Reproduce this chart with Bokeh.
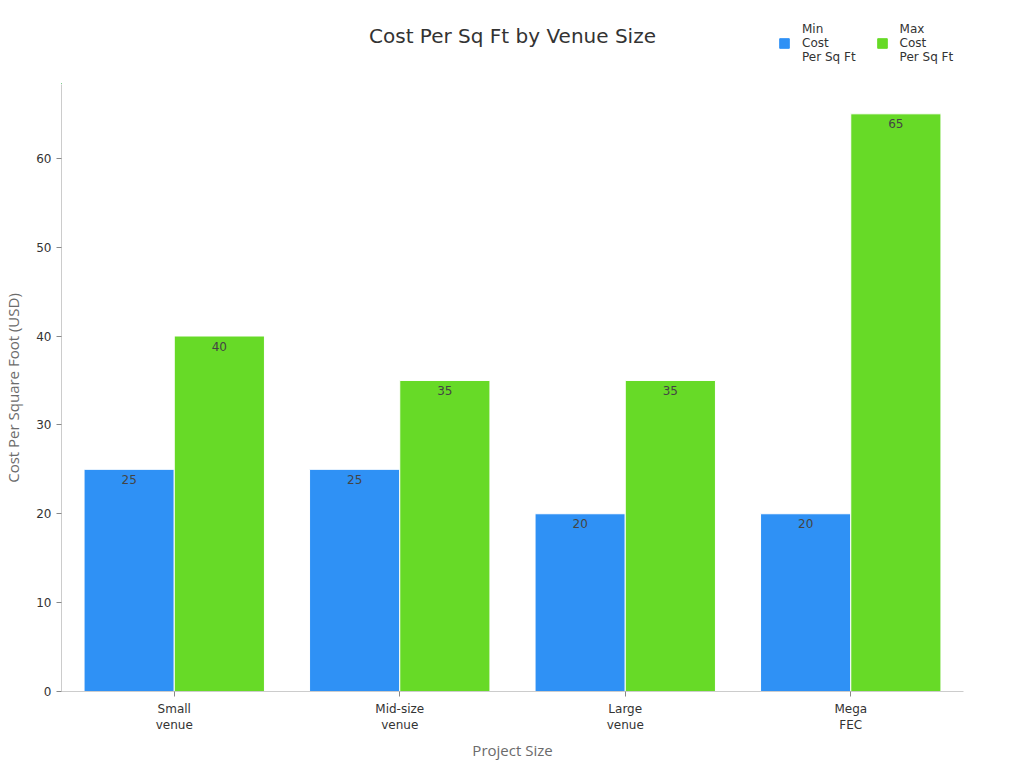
from bokeh.plotting import figure
from bokeh.layouts import column
from bokeh.core.properties import value
from bokeh.models import (ColumnDataSource, FactorRange, Range1d, Legend, LegendItem,
                          Label, LabelSet)
from bokeh.transform import dodge
from bokeh.embed import file_html
from bokeh.resources import INLINE

FONT = "DejaVu Sans"
AXIS_FONT = "Open Sans"

title_text = "Cost Per Sq Ft by Venue Size"
categories = ["Small\nvenue", "Mid-size\nvenue", "Large\nvenue", "Mega\nFEC"]
min_cost = [25, 25, 20, 20]
max_cost = [40, 35, 35, 65]
series_names = ["Min\nCost\nPer Sq Ft", "Max\nCost\nPer Sq Ft"]
colors = ["#2f91f5", "#67da27"]

src = ColumnDataSource(dict(
    cat=categories,
    min_cost=min_cost,
    max_cost=max_cost,
    min_txt=[str(v) for v in min_cost],
    max_txt=[str(v) for v in max_cost],
))

# ---- header strip: title and legend (its frame lines up with the chart frame) ----
HEAD_H = 84
head = figure(
    width=1024, height=HEAD_H,
    x_range=Range1d(0, 1024), y_range=Range1d(0, HEAD_H),
    x_axis_location=None, y_axis_location=None,
    output_backend="svg", toolbar_location=None,
    min_border=0,
)
head.title = None
head.grid.visible = False
head.outline_line_color = None
head.background_fill_color = "white"
head.border_fill_color = "white"

head.add_layout(Label(
    x=512, y=HEAD_H - 35,
    text=title_text, text_align="center", text_baseline="middle",
    text_font=FONT, text_font_size="20px", text_color="#333333",
))

# legend swatch renderers, kept off-screen so only their legend keys show
off = ColumnDataSource(dict(x=[-100], top=[1]))
key_min = head.vbar(x="x", top="top", width=1, source=off,
                    fill_color=colors[0], line_color=colors[0])
key_max = head.vbar(x="x", top="top", width=1, source=off,
                    fill_color=colors[1], line_color=colors[1])

legend = Legend(
    items=[LegendItem(label=series_names[0], renderers=[key_min]),
           LegendItem(label=series_names[1], renderers=[key_max])],
    orientation="horizontal",
    location=(717, 20),
    margin=0, padding=10,
    label_text_font=FONT, label_text_font_size="12px", label_text_color="#333333",
    label_text_line_height=1.3,
    glyph_width=12, glyph_height=12, spacing=20, label_standoff=12,
    border_line_color=None, background_fill_alpha=0,
)
head.add_layout(legend, "center")

# ---- main chart ----
p = figure(
    width=1024, height=768 - HEAD_H,
    x_range=FactorRange(*categories, range_padding=0.0),
    y_range=Range1d(0, 68.3),
    output_backend="svg", toolbar_location=None,
    min_border_left=61, min_border_right=61, min_border_top=0, min_border_bottom=77,
)
p.title = None
p.xgrid.grid_line_color = None
p.ygrid.grid_line_color = None
p.outline_line_color = None
p.background_fill_color = "white"
p.border_fill_color = "white"

p.vbar(x=dodge("cat", -0.2, range=p.x_range), top="min_cost", width=0.4,
       source=src, fill_color=colors[0], line_color="white", line_width=1)
p.vbar(x=dodge("cat", 0.2, range=p.x_range), top="max_cost", width=0.4,
       source=src, fill_color=colors[1], line_color="white", line_width=1)

for xoff, col, txt in [(-0.2, "min_cost", "min_txt"), (0.2, "max_cost", "max_txt")]:
    p.add_layout(LabelSet(
        x=dodge("cat", xoff, range=p.x_range), y=col, text=txt, source=src,
        text_align="center", text_baseline="middle", y_offset=-10,
        text_font=value(FONT), text_font_size=value("12px"), text_color="#444444",
    ))

for ax in (p.xaxis, p.yaxis):
    ax.axis_line_color = "#cccccc"
    ax.major_tick_line_color = "#888888"
    ax.minor_tick_line_color = None
    ax.major_label_text_font = FONT
    ax.major_label_text_font_size = "12px"
    ax.major_label_text_color = "#333333"
    ax.axis_label_text_font = AXIS_FONT
    ax.axis_label_text_font_size = "15px"
    ax.axis_label_text_font_style = "normal"
    ax.axis_label_text_color = "#6b6b6b"

p.yaxis.ticker = [0, 10, 20, 30, 40, 50, 60]
p.yaxis.major_tick_in = 0
p.yaxis.major_tick_out = 5
p.yaxis.axis_label = "Cost Per Square Foot (USD)"
p.yaxis.axis_label_standoff = 10
p.xaxis.major_tick_in = 0
p.xaxis.major_tick_out = 5
p.xaxis.axis_label = "Project Size"
p.xaxis.axis_label_standoff = 5

layout = column(head, p, spacing=0)
open("out.html", "w").write(file_html(layout, INLINE))
